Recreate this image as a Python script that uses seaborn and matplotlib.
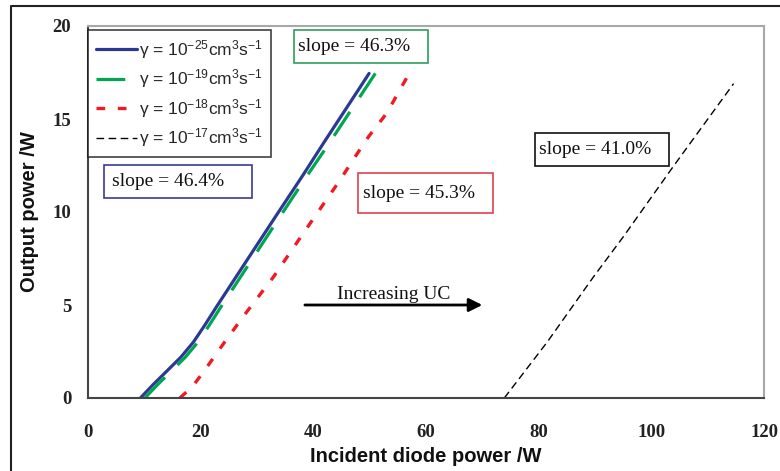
import matplotlib
matplotlib.use("Agg")
import matplotlib.pyplot as plt
import seaborn as sns
import pandas as pd
from matplotlib.lines import Line2D
from matplotlib.patches import Rectangle

# ---- data ----
x_25 = [9.3, 11.5, 14.0, 16.5, 18.7, 20.7, 22.8, 28.2, 33.5, 38.2, 41.8, 49.9]
y_25 = [0.0, 0.7, 1.45, 2.2, 3.0, 3.9, 4.9, 7.4, 9.85, 12.0, 13.7, 17.45]
x_19 = [10.1, 12.3, 14.8, 17.3, 19.5, 21.5, 23.6, 29.0, 34.3, 39.0, 42.6, 51.0]
y_19 = [0.0, 0.7, 1.45, 2.2, 3.0, 3.9, 4.9, 7.4, 9.85, 12.0, 13.6, 17.45]
x_18 = [16.3, 18.5, 20.5, 24.0, 27.6, 32.9, 38.2, 44.7, 47.7, 49.8, 53.0, 57.2]
y_18 = [0.0, 0.6, 1.4, 2.9, 4.4, 6.5, 8.85, 11.7, 13.1, 14.05, 15.3, 17.55]
x_17 = [73.9, 81.5, 89.7, 95.1, 103.9, 114.6]
y_17 = [0.0, 3.0, 6.5, 8.7, 12.45, 16.9]

labels = [r"γ = 10$^{-25}$cm$^{3}$s$^{-1}$",
          r"γ = 10$^{-19}$cm$^{3}$s$^{-1}$",
          r"γ = 10$^{-18}$cm$^{3}$s$^{-1}$",
          r"γ = 10$^{-17}$cm$^{3}$s$^{-1}$"]
slope_texts = ["slope = 46.4%", "slope = 46.3%", "slope = 45.3%", "slope = 41.0%"]
x_ticks = [0, 20, 40, 60, 80, 100, 120]
y_ticks = [0, 5, 10, 15, 20]

# ---- style ----
sns.set_theme(style="white")
plt.rcParams["font.family"] = ["Liberation Sans", "DejaVu Sans"]
plt.rcParams["mathtext.fontset"] = "custom"
plt.rcParams["mathtext.rm"] = "Liberation Sans"
plt.rcParams["mathtext.it"] = "Liberation Sans:italic"
plt.rcParams["mathtext.bf"] = "Liberation Sans:bold"
plt.rcParams["mathtext.default"] = "rm"

W, H = 780, 471
fig = plt.figure(figsize=(W / 100, H / 100), dpi=100)
ax = fig.add_axes([88 / W, (H - 398) / H, (764 - 88) / W, (398 - 26) / H])

colors = ["#2b3990", "#00a651", "#ed1c24", "#000000"]
styles = ["-", (0, (9, 5.5)), (0, (2.6, 3.8)), (0, (5.5, 3.2))]
widths = [2.3, 2.3, 2.4, 1.0]
series = [(x_25, y_25), (x_19, y_19), (x_18, y_18), (x_17, y_17)]

handles = []
for (xs, ys), c, ls, lw, lab in zip(series, colors, styles, widths, labels):
    df = pd.DataFrame({"x": xs, "y": ys})
    sns.lineplot(data=df, x="x", y="y", ax=ax, color=c, linestyle=ls,
                 linewidth=lw, estimator=None, sort=False, legend=False)
    handles.append(Line2D([], [], color=c, linestyle=ls, linewidth=lw))

ax.set_xlim(0, 120)
ax.set_ylim(0, 20)
ax.set_xticks(x_ticks)
ax.set_yticks(y_ticks)
ax.set_xticklabels([str(t) for t in x_ticks])
ax.set_yticklabels([str(t) for t in y_ticks])
for lab in ax.get_xticklabels() + ax.get_yticklabels():
    lab.set_fontfamily("Liberation Serif")
    lab.set_fontweight("bold")
    lab.set_fontsize(13.5)
    lab.set_color("#222222")
ax.tick_params(axis="x", direction="in", length=5, width=1, color="#444444", pad=19)
ax.tick_params(axis="y", direction="in", length=5, width=1, color="#444444", pad=12)

ax.set_xlabel("Incident diode power /W", fontsize=14.5, fontweight="bold",
              fontfamily="Liberation Sans", color="#111111", labelpad=4)
ax.set_ylabel("Output power /W", fontsize=14.5, fontweight="bold",
              fontfamily="Liberation Sans", color="#111111", labelpad=10)

for side in ["left", "bottom"]:
    ax.spines[side].set_color("#444444")
    ax.spines[side].set_linewidth(1.5)
for side in ["top", "right"]:
    ax.spines[side].set_color("#a8a8a8")
    ax.spines[side].set_linewidth(1.5)

leg = ax.legend(handles, labels, loc="upper left", bbox_to_anchor=(0, 0.989),
                borderaxespad=0, frameon=True, fancybox=False, fontsize=12.5,
                handlelength=2.4, handletextpad=0.1, labelspacing=0.38,
                borderpad=0.45)
leg.get_frame().set_edgecolor("#111111")
leg.get_frame().set_linewidth(1.2)

# slope annotation boxes: (box x0, x1, y0, y1, text x, text y, colour)
boxes = [
    (2.8, 29.1, 10.75, 12.53, 4.25, 11.64, "#3a3a9a"),
    (36.6, 60.4, 18.0, 19.8, 37.3, 18.9, "#2e9e5e"),
    (47.9, 71.9, 9.95, 12.1, 48.8, 11.0, "#e04050"),
    (79.4, 103.2, 12.47, 14.25, 80.1, 13.36, "#111111"),
]
for (x0, x1, y0, y1, tx, ty, ec), txt in zip(boxes, slope_texts):
    ax.add_patch(Rectangle((x0, y0), x1 - x0, y1 - y0, fill=True, fc="white",
                           ec=ec, lw=1.2, zorder=5))
    ax.text(tx, ty, txt, fontsize=14, fontfamily="Liberation Serif",
            ha="left", va="center", zorder=6, color="#111111")

ax.annotate("", xy=(70.0, 5.0), xytext=(38.5, 5.0),
            arrowprops=dict(arrowstyle="-|>", lw=2, color="black",
                            mutation_scale=20, shrinkA=0, shrinkB=0))
ax.text(54.2, 5.55, "Increasing UC", fontsize=14, fontfamily="Liberation Serif",
        ha="center", va="center", color="#111111")

# outer figure frame (left and top edges)
fig.add_artist(Line2D([11 / W, 11 / W, 1], [0, 1 - 6 / H, 1 - 6 / H],
                      transform=fig.transFigure, color="#222222", lw=1.5))

fig.savefig("out.png", dpi=100)
